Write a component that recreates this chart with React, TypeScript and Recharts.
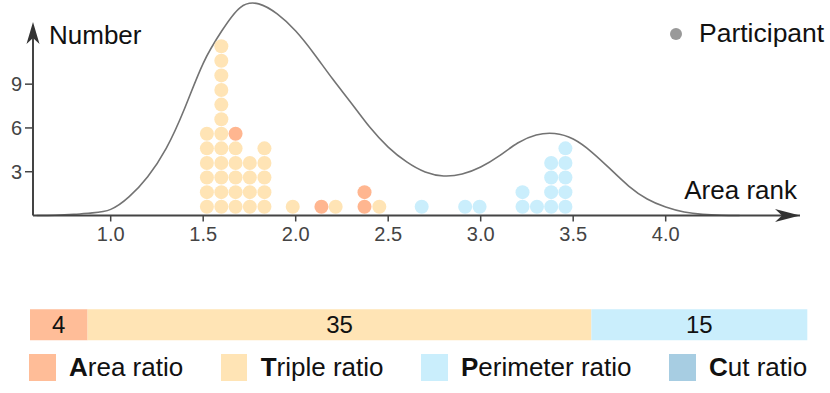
import React from 'react';
import {
  ComposedChart, Line, Scatter, XAxis, YAxis, ReferenceLine, ReferenceDot,
  BarChart, Bar, LabelList, Legend,
} from 'recharts';

// participants' area-rank values, one entry per dot
const areaRatioRanks = [1.675, 2.139, 2.372, 2.372];
const tripleRatioRanks = [
  1.52, 1.52, 1.52, 1.52, 1.52, 1.52,
  1.598, 1.598, 1.598, 1.598, 1.598, 1.598, 1.598, 1.598, 1.598, 1.598, 1.598, 1.598,
  1.675, 1.675, 1.675, 1.675, 1.675,
  1.752, 1.752, 1.752, 1.752,
  1.831, 1.831, 1.831, 1.831, 1.831,
  1.984, 2.216, 2.452,
];
const perimeterRatioRanks = [
  2.681, 2.916, 2.994, 3.226, 3.226, 3.304,
  3.381, 3.381, 3.381, 3.381,
  3.458, 3.458, 3.458, 3.458, 3.458,
];

// density curve
const curveX = [0.6, 0.7, 0.8, 0.9, 1.0, 1.1, 1.2, 1.3, 1.4, 1.5, 1.6, 1.7, 1.8, 1.9, 2.0, 2.1, 2.2, 2.3, 2.4, 2.5, 2.6, 2.7, 2.8, 2.9, 3.0, 3.1, 3.2, 3.3, 3.4, 3.5, 3.6, 3.7, 3.8, 3.9, 4.0, 4.1, 4.2, 4.3, 4.4];
const curveY = [0.0, 0.02, 0.08, 0.18, 0.42, 1.29, 2.66, 4.6, 7.35, 10.43, 12.64, 14.25, 14.5, 13.81, 12.64, 11.07, 9.35, 7.71, 6.06, 4.69, 3.67, 2.98, 2.71, 2.84, 3.32, 4.08, 4.97, 5.52, 5.62, 5.24, 4.35, 3.19, 2.02, 1.13, 0.58, 0.24, 0.08, 0.02, 0.0];

const xTicks = [1.0, 1.5, 2.0, 2.5, 3.0, 3.5, 4.0];
const yTicks = [3, 6, 9];

const strategyNames = ['Area ratio', 'Triple ratio', 'Perimeter ratio', 'Cut ratio'];
const strategyKeys = ['area', 'triple', 'perimeter', 'cut'];
const strategyCounts = [4, 35, 15, 0];
const strategyColors = ['#FFBD98', '#FFE4B5', '#CAEEFC', '#A7CDE2'];

const FONT = '"Liberation Sans", Arial, sans-serif';
const AXIS = '#444';
const X_MIN = 0.58;
const X_MAX = 4.726;
const Y_TOP = 13.26;

// stack dots that share a rank value
const heights: Record<string, number> = {};
const stack = (ranks: number[]) =>
  ranks.map((r) => {
    const k = r.toFixed(3);
    const h = heights[k] || 0;
    heights[k] = h + 1;
    return { x: r, y: h + 0.6 };
  });
const tripleDots = stack(tripleRatioRanks);
const areaDots = stack(areaRatioRanks);
const perimeterDots = stack(perimeterRatioRanks);

const curveData = curveX.map((x, i) => ({ x, y: curveY[i] }));
const barRow = [
  strategyKeys.reduce((o, k, i) => ({ ...o, [k]: strategyCounts[i] }), { name: 'strategy' } as any),
];

const Dot = (props: any) => <circle cx={props.cx} cy={props.cy} r={7} fill={props.fill} />;

const YTick = (props: any) => {
  const { x, y, payload } = props;
  return (
    <g>
      <line x1={x - 8} x2={x} y1={y} y2={y} stroke={AXIS} strokeWidth={1.5} />
      <text x={x - 11} y={y} dy="0.35em" textAnchor="end" fontSize={20} fill={AXIS} fontFamily={FONT}>
        {payload.value}
      </text>
    </g>
  );
};

const RightArrow = (props: any) => {
  const { cx, cy } = props;
  return <path d={`M${cx},${cy} L${cx - 25},${cy - 6.5} L${cx - 18},${cy} L${cx - 25},${cy + 6.5} Z`} fill="#333" />;
};

const UpArrow = (props: any) => {
  const { cx, cy } = props;
  return <path d={`M${cx},${cy} L${cx - 6.5},${cy + 22} L${cx},${cy + 16} L${cx + 6.5},${cy + 22} Z`} fill="#333" />;
};

const ParticipantLegend = () => (
  <div style={{ display: 'flex', alignItems: 'center', whiteSpace: 'nowrap', fontFamily: FONT, fontSize: 26.5, color: '#111' }}>
    <span style={{ width: 12, height: 12, borderRadius: 6, background: '#999', marginRight: 17 }} />
    Participant
  </div>
);

const StrategyLegend = () => (
  <div style={{ display: 'flex', alignItems: 'center', height: 27, whiteSpace: 'nowrap', fontFamily: FONT, fontSize: 26, color: '#111' }}>
    {strategyNames.map((n, i) => (
      <div key={n} style={{ display: 'flex', alignItems: 'center', flexShrink: 0, marginRight: i < strategyNames.length - 1 ? 37.5 : 0 }}>
        <span style={{ width: 26.5, height: 26.5, flexShrink: 0, background: strategyColors[i], marginRight: 13.5 }} />
        <span><b>{n[0]}</b>{n.slice(1)}</span>
      </div>
    ))}
  </div>
);

export default function App() {
  return (
    <div style={{ position: 'absolute', left: 0, top: 0, width: 830, height: 393, background: '#fff', fontFamily: FONT }}>
      <ComposedChart width={830} height={250} margin={{ top: 2, right: 30, left: 0, bottom: 0 }}>
        <XAxis
          type="number"
          dataKey="x"
          domain={[X_MIN, X_MAX]}
          ticks={xTicks}
          interval={0}
          tickFormatter={(v: number) => v.toFixed(1)}
          height={34.5}
          tickSize={6}
          tickMargin={5}
          stroke={AXIS}
          axisLine={{ stroke: AXIS, strokeWidth: 2 }}
          tickLine={{ stroke: AXIS, strokeWidth: 1.5 }}
          tick={{ fontSize: 20, fill: AXIS, fontFamily: FONT }}
        />
        <YAxis
          type="number"
          dataKey="y"
          domain={[0, 14.63]}
          ticks={yTicks}
          width={33}
          axisLine={false}
          tickLine={false}
          tickSize={0}
          tickMargin={0}
          tick={<YTick />}
        />
        <ReferenceLine
          segment={[{ x: X_MIN, y: 0 }, { x: X_MIN, y: Y_TOP - 0.5 }]}
          stroke={AXIS}
          strokeWidth={2}
          ifOverflow="visible"
        />
        <ReferenceDot x={X_MAX} y={0} ifOverflow="visible" shape={<RightArrow />} />
        <ReferenceDot x={X_MIN} y={Y_TOP} ifOverflow="visible" shape={<UpArrow />} />
        <Line data={curveData} dataKey="y" type="natural" stroke="#737373" strokeWidth={1.6} dot={false} activeDot={false} isAnimationActive={false} />
        <Scatter name="Triple ratio" data={tripleDots} fill={strategyColors[1]} shape={<Dot />} isAnimationActive={false} />
        <Scatter name="Area ratio" data={areaDots} fill="#FFB690" shape={<Dot />} isAnimationActive={false} />
        <Scatter name="Perimeter ratio" data={perimeterDots} fill={strategyColors[2]} shape={<Dot />} isAnimationActive={false} />
        <text x={49} y={44} fontSize={26} fill="#111" fontFamily={FONT}>Number</text>
        <text x={797} y={199} fontSize={26} fill="#111" textAnchor="end" fontFamily={FONT}>Area rank</text>
        <Legend
          layout="horizontal"
          verticalAlign="middle"
          align="center"
          content={<ParticipantLegend />}
          wrapperStyle={{ top: 18, left: 670, width: 160, height: 'auto' }}
        />
      </ComposedChart>
      <div style={{ position: 'absolute', left: 0, top: 300 }}>
        <BarChart
          width={830}
          height={93}
          data={barRow}
          layout="vertical"
          barCategoryGap={0}
          margin={{ top: 9.3, right: 22.7, left: 30, bottom: 52.3 }}
        >
          <XAxis type="number" hide domain={[0, 54]} />
          <YAxis type="category" dataKey="name" hide />
          {strategyKeys.map((k, i) => (
            <Bar key={k} dataKey={k} name={strategyNames[i]} stackId="s" fill={strategyColors[i]} isAnimationActive={false}>
              {strategyCounts[i] > 0 && (
                <LabelList dataKey={k} position="center" fill="#111" fontSize={24} fontFamily={FONT} />
              )}
            </Bar>
          ))}
          <Legend
            layout="horizontal"
            verticalAlign="middle"
            align="center"
            content={<StrategyLegend />}
            wrapperStyle={{ top: 54, left: 29, width: 800, height: 'auto' }}
          />
        </BarChart>
      </div>
    </div>
  );
}
